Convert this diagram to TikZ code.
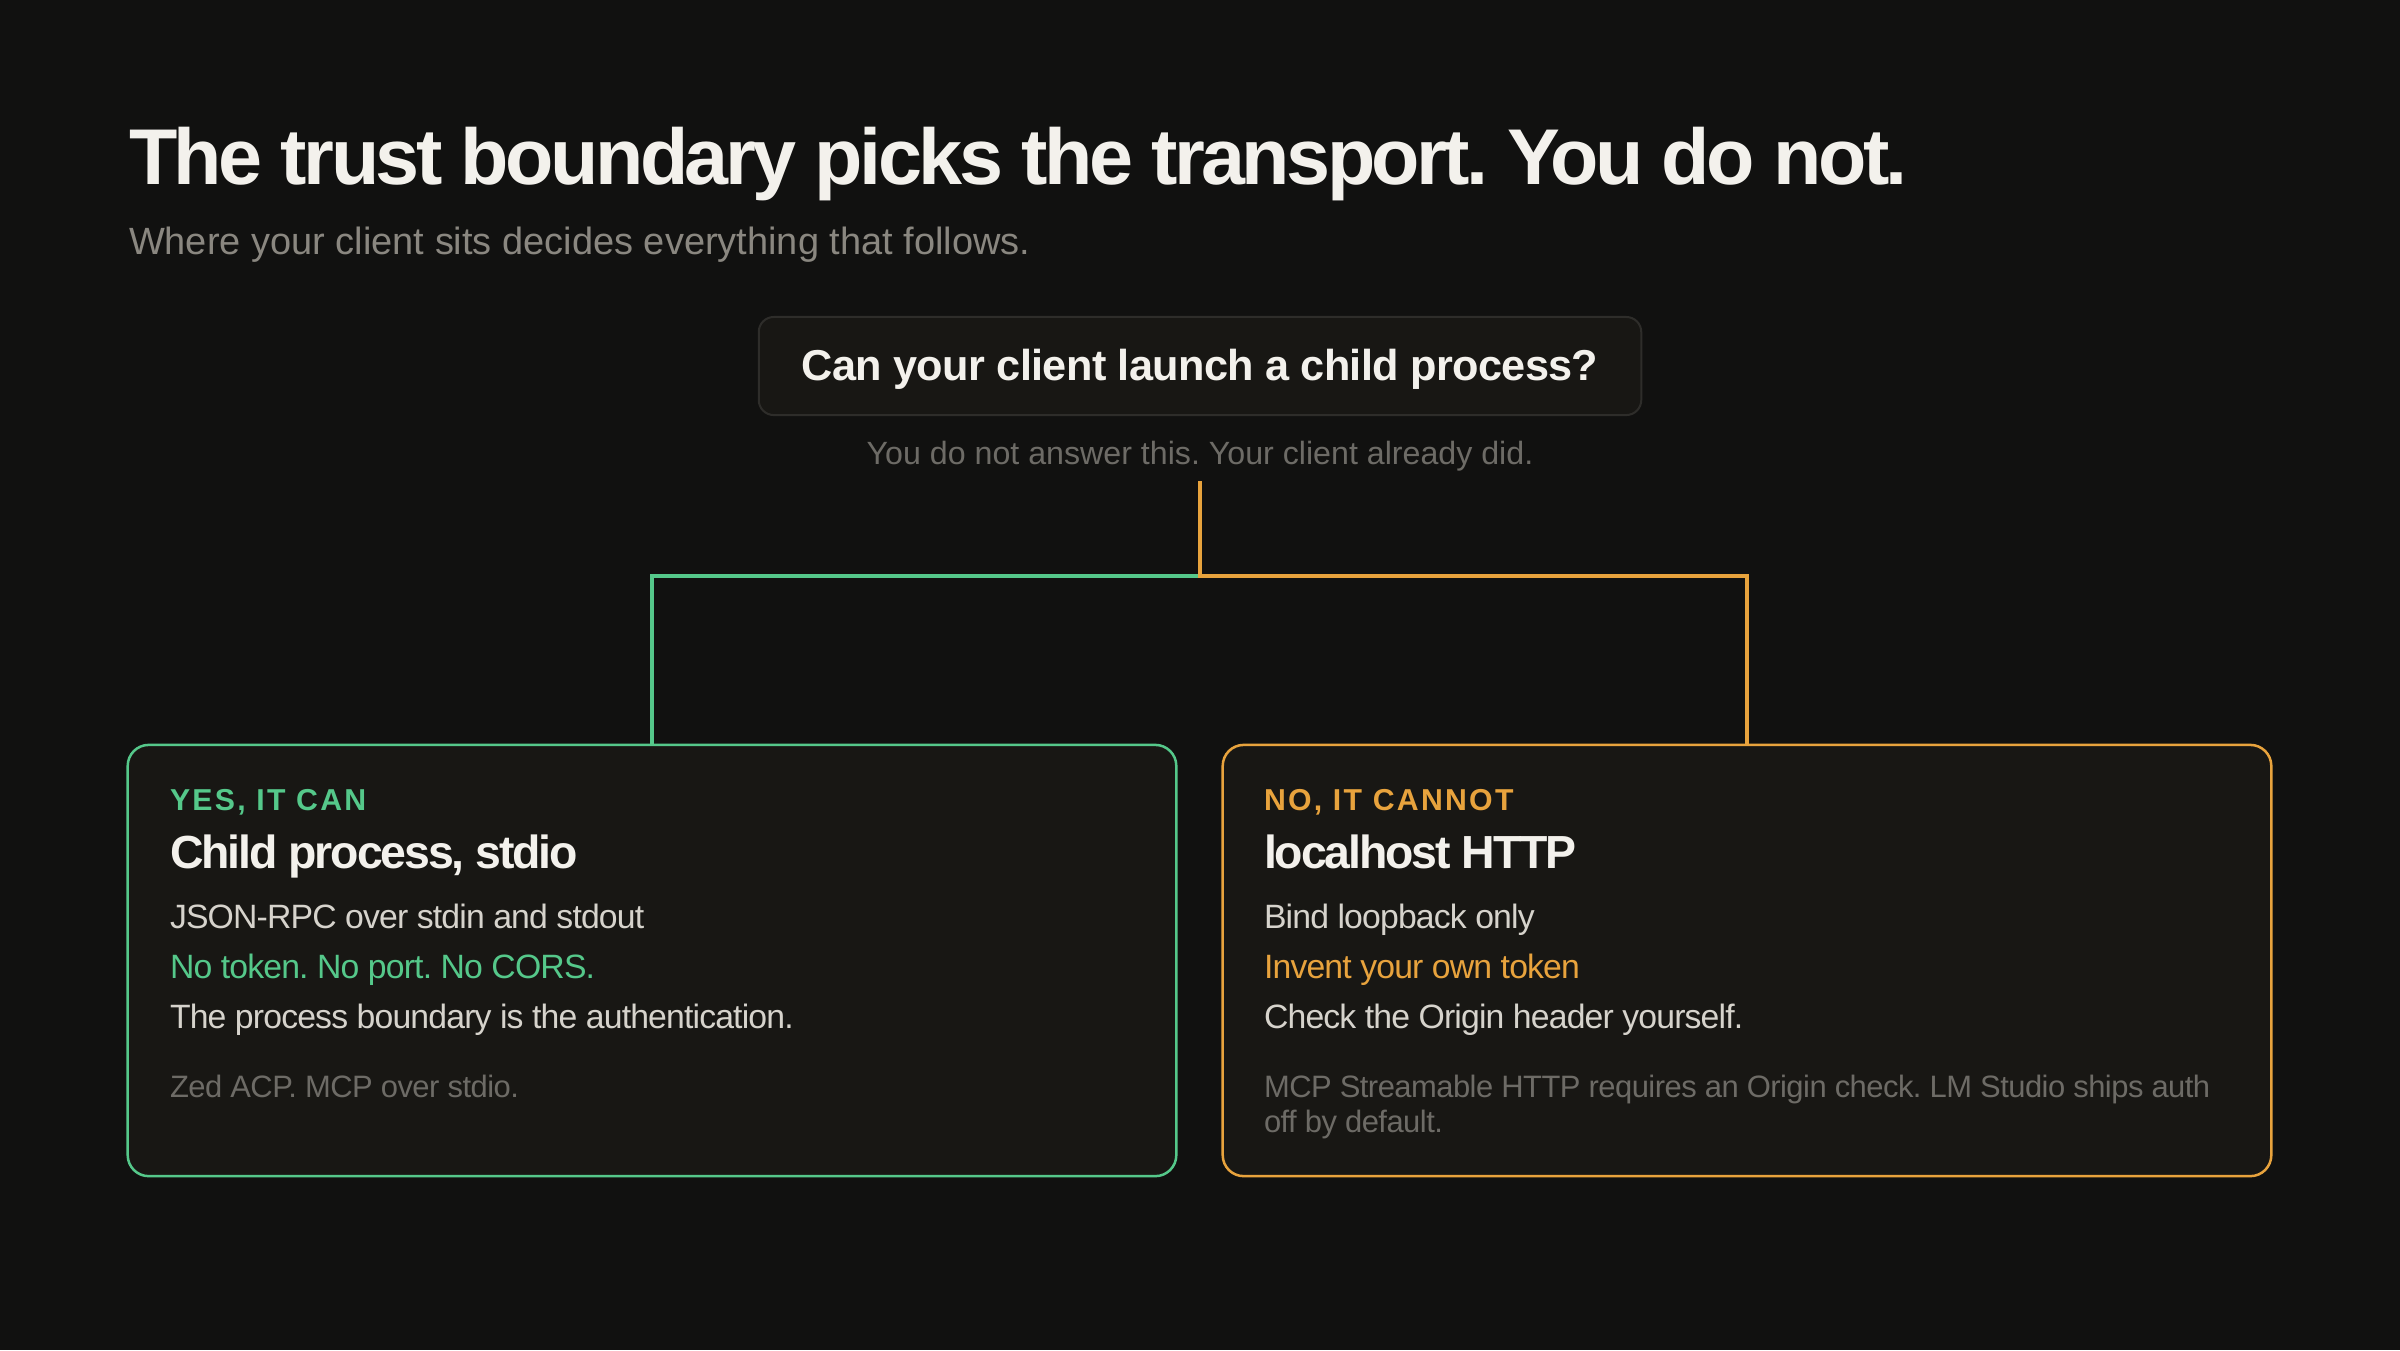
\documentclass[tikz,border=0pt]{standalone}
\usepackage{fontspec}
\setmainfont{Liberation Sans}
\frenchspacing
\definecolor{bg}{HTML}{111110}
\definecolor{card}{HTML}{181714}
\definecolor{qborder}{HTML}{2E2D2A}
\definecolor{ink}{HTML}{F3F1EC}
\definecolor{body}{HTML}{D6D3CC}
\definecolor{muted}{HTML}{8A8780}
\definecolor{dim}{HTML}{6D6B66}
\definecolor{grn}{HTML}{55C88A}
\definecolor{org}{HTML}{E8A33D}
\tikzset{
  txt/.style={anchor=base west, inner sep=0pt, outer sep=0pt},
  card/.style={draw=#1, fill=card, line width=0.25mm, rounded corners=2.1mm,
    minimum width=10.48cm, minimum height=4.31cm, inner sep=0pt},
  tagtxt/.style={txt, font=\fontsize{8.6}{10}\selectfont\bfseries\addfontfeatures{LetterSpace=7.5}},
  headtxt/.style={txt, text=ink, font=\fontsize{13.2}{16}\selectfont\bfseries\addfontfeatures{LetterSpace=-4.5}},
  bodytxt/.style={txt, font=\fontsize{9.6}{12}\selectfont\addfontfeatures{LetterSpace=-2.5}},
  notetxt/.style={txt, text=dim, font=\fontsize{8.8}{10.3}\selectfont\addfontfeatures{LetterSpace=-1.7}},
  link/.style={line width=0.4mm},
}
\begin{document}
\begin{tikzpicture}[x=0.01cm, y=-0.01cm]
\fill[bg] (0,0) rectangle (2400,1350);
\useasboundingbox (0,0) rectangle (2400,1350);

% title block
\node[txt, text=ink, font=\fontsize{22.5}{27}\selectfont\bfseries\addfontfeatures{LetterSpace=-4.5}] (title) at (129,184) {The trust boundary picks the transport. You do not.};
\node[txt, text=muted, font=\fontsize{10.8}{13}\selectfont] (subtitle) at (129,254) {Where your client sits decides everything that follows.};

% question
\node[draw=qborder, fill=card, line width=0.2mm, rounded corners=1.5mm,
      minimum width=8.82cm, minimum height=0.98cm, inner sep=0pt] (q) at (1200,366) {};
\node[anchor=base, inner sep=0pt, text=ink, font=\fontsize{12.3}{15}\selectfont\bfseries\addfontfeatures{LetterSpace=-1.5}] (qt) at (1200,380) {Can your client launch a child process?};
\node[anchor=base, inner sep=0pt, text=dim, font=\fontsize{9.15}{11}\selectfont] (qs) at (1200,464) {You do not answer this. Your client already did.};

% cards
\node[card=grn] (L) at (652,960.5) {};
\node[card=org] (R) at (1747,960.5) {};

% connectors
\coordinate (stem) at (1200,481);
\coordinate (junc) at (1200,575.5);
\draw[link, grn] (junc) -- (junc -| L.north) -- (L.north);
\draw[link, org] (stem) -- (junc) -- (junc -| R.north) -- (R.north);

% left card text
\node[tagtxt, text=grn] (Ltag) at (170,810) {YES, IT CAN};
\node[headtxt] (Lhead) at (170,868) {Child process, stdio};
\node[bodytxt, text=body] (L1) at (170,928) {JSON-RPC over stdin and stdout};
\node[bodytxt, text=grn] (L2) at (170,978) {No token. No port. No CORS.};
\node[bodytxt, text=body] (L3) at (170,1028) {The process boundary is the authentication.};
\node[notetxt] (L4) at (170,1097) {Zed ACP. MCP over stdio.};

% right card text
\node[tagtxt, text=org] (Rtag) at (1264,810) {NO, IT CANNOT};
\node[headtxt] (Rhead) at (1264,868) {localhost HTTP};
\node[bodytxt, text=body] (R1) at (1264,928) {Bind loopback only};
\node[bodytxt, text=org] (R2) at (1264,978) {Invent your own token};
\node[bodytxt, text=body] (R3) at (1264,1028) {Check the Origin header yourself.};
\node[notetxt] (R4) at (1264,1097) {MCP Streamable HTTP requires an Origin check. LM Studio ships auth};
\node[notetxt] (R5) at (1264,1132) {off by default.};
\end{tikzpicture}
\end{document}
